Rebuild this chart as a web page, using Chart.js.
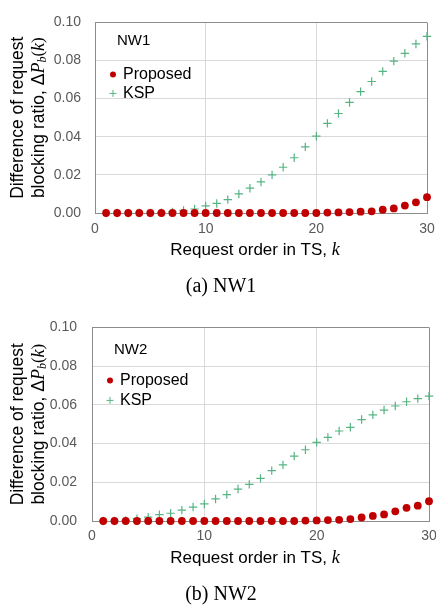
<!DOCTYPE html>
<html>
<head>
<meta charset="utf-8">
<script src="https://cdn.jsdelivr.net/npm/chart.js@4.4.1/dist/chart.umd.min.js"></script>
<style>
  html, body { margin:0; padding:0; background:#fff; width:436px; height:608px; overflow:hidden; position:relative; }
  .wrap { position:absolute; left:0; width:450px; height:304px; }
  .cap { position:absolute; left:0; width:442px; text-align:center; font-family:'Liberation Serif','Times New Roman',serif; font-size:20px; line-height:24px; color:#000; }
</style>
</head>
<body>
<div class="wrap" style="top:0"><canvas id="c1" width="450" height="304"></canvas></div>
<div class="wrap" style="top:304px"><canvas id="c2" width="450" height="304"></canvas></div>
<div class="cap" style="top:273px">(a) NW1</div>
<div class="cap" style="top:581px">(b) NW2</div>
<script>
// ---------- data ----------
const kValues = [1,2,3,4,5,6,7,8,9,10,11,12,13,14,15,16,17,18,19,20,21,22,23,24,25,26,27,28,29,30];
const xTicks = [0,10,20,30];
const yTicks = [0.00,0.02,0.04,0.06,0.08,0.10];

const nw1Proposed = [0,0,0,0,0,0,0,0,0,0,0,0,0,0,0,0,0,0,0,0,
  0.0002,0.0003,0.0005,0.0007,0.0009,0.0017,0.0024,0.0039,0.0056,0.0083];
const nw1KSP = [0,0,0,0,0,0.0002,0.0006,0.0014,0.0021,0.0037,0.0050,0.0070,0.0100,0.0130,0.0163,
  0.0200,0.0240,0.0290,0.0347,0.0403,0.0470,0.0522,0.0580,0.0637,0.0690,0.0743,0.0797,0.0838,0.0887,0.0927];

const nw2Proposed = [0,0,0,0,0,0,0,0,0,0,0,0,0,0,0,0,0,0,
  0.0002,0.0003,0.0005,0.0006,0.0010,0.0018,0.0026,0.0034,0.0050,0.0068,0.0079,0.0102];
const nw2KSP = [0,0,0.0003,0.0012,0.0020,0.0033,0.0040,0.0056,0.0072,0.0088,0.0114,0.0136,0.0165,0.0189,0.0220,
  0.0260,0.0290,0.0335,0.0368,0.0406,0.0432,0.0465,0.0484,0.0524,0.0548,0.0573,0.0594,0.0616,0.0632,0.0645];

const seriesNames = ['Proposed','KSP'];
const panelLabels = ['NW1','NW2'];

// ---------- styles ----------
const RED = '#c00000';
const GREEN = '#55b482';
const SANS = "'Liberation Sans', Arial, sans-serif";
const SERIF = "'Liberation Serif', 'Times New Roman', serif";

function pts(vals){ return kValues.map((k,i)=>({x:k, y:vals[i]})); }

function drawSegments(ctx, segs, x, y, align){
  let total = 0;
  segs.forEach(s=>{ ctx.font = s.font; s.w = ctx.measureText(s.t).width; total += s.w; });
  let cx = align==='center' ? x - total/2 : x;
  segs.forEach(s=>{ ctx.font = s.font; ctx.fillText(s.t, cx, y + (s.dy||0)); cx += s.w; });
}

function makeChart(id, prop, ksp, cfg){
  const overlay = {
    id:'overlay',
    afterDraw(chart){
      const ctx = chart.ctx, a = chart.chartArea;
      ctx.save();
      ctx.fillStyle = '#000';
      ctx.textBaseline = 'middle';
      ctx.textAlign = 'left';
      ctx.font = '15px ' + SANS;
      ctx.fillText(cfg.label, a.left + 22, a.top + cfg.labelDy);
      const lx = a.left + 18;
      ctx.fillStyle = RED;
      ctx.beginPath(); ctx.arc(lx, a.top + cfg.legDy1, 3, 0, Math.PI*2); ctx.fill();
      ctx.strokeStyle = GREEN; ctx.lineWidth = 1;
      ctx.beginPath();
      ctx.moveTo(lx-3.5, a.top + cfg.legDy2); ctx.lineTo(lx+3.5, a.top + cfg.legDy2);
      ctx.moveTo(lx, a.top + cfg.legDy2 - 3.5); ctx.lineTo(lx, a.top + cfg.legDy2 + 3.5);
      ctx.stroke();
      ctx.fillStyle = '#000';
      ctx.font = '16px ' + SANS;
      ctx.fillText(seriesNames[0], lx + 10, a.top + cfg.legDy1);
      ctx.fillText(seriesNames[1], lx + 10, a.top + cfg.legDy2);
      drawSegments(ctx, [
        {t:'Request order in TS, ', font:'17px ' + SANS},
        {t:'k', font:'italic 18px ' + SERIF}
      ], cfg.xTitleX, cfg.xTitleY, 'center');
      const cy = (a.top + a.bottom)/2;
      ctx.save();
      ctx.translate(18, cy);
      ctx.rotate(-Math.PI/2);
      drawSegments(ctx, [{t:'Difference of request', font:'17.5px ' + SANS}], 0, 0, 'center');
      ctx.restore();
      ctx.save();
      ctx.translate(39, cy);
      ctx.rotate(-Math.PI/2);
      drawSegments(ctx, [
        {t:'blocking ratio, Δ', font:'17.5px ' + SANS},
        {t:'P', font:'italic 18px ' + SERIF},
        {t:'b', font:'italic 12px ' + SERIF, dy:4},
        {t:'(', font:'17px ' + SERIF},
        {t:'k', font:'italic 18px ' + SERIF},
        {t:')', font:'17px ' + SERIF}
      ], 0, 0, 'center');
      ctx.restore();
      ctx.restore();
    }
  };

  const gridColor = (edgeVal) => (c) => (c.tick && Math.abs(c.tick.value - edgeVal) < 1e-9) ? '#8c8c8c' : '#d9d9d9';

  return new Chart(document.getElementById(id), {
    type:'scatter',
    data:{
      datasets:[
        { label:seriesNames[0], data:pts(prop), pointStyle:'circle', pointRadius:3.9, pointHoverRadius:3.9,
          backgroundColor:RED, borderColor:RED, borderWidth:0, order:1 },
        { label:seriesNames[1], data:pts(ksp), pointStyle:'cross', pointRadius:4.2, pointHoverRadius:4.2,
          backgroundColor:GREEN, borderColor:GREEN, borderWidth:1.2, order:2 }
      ]
    },
    options:{
      responsive:false, animation:false, devicePixelRatio:1,
      clip:false,
      layout:{ padding:{ top:cfg.top, right:cfg.right, left:0, bottom:0 } },
      plugins:{ legend:{display:false}, tooltip:{enabled:false}, title:{display:false} },
      scales:{
        x:{
          type:'linear', min:0, max:30,
          afterBuildTicks(s){ s.ticks = xTicks.map(v=>({value:v})); },
          afterFit(s){ s.height = cfg.xh; },
          ticks:{ color:'#595959', font:{family:SANS, size:14}, padding:cfg.xpad, maxRotation:0 },
          grid:{ color:gridColor(30), drawTicks:false, tickLength:0 },
          border:{ display:true, color:'#8c8c8c', width:1 }
        },
        y:{
          type:'linear', min:0, max:0.1,
          afterBuildTicks(s){ s.ticks = yTicks.map(v=>({value:v})); },
          afterFit(s){ s.width = cfg.yw; },
          ticks:{ color:'#595959', font:{family:SANS, size:14}, padding:cfg.ypad,
                  callback:(v)=>Number(v).toFixed(2) },
          grid:{ color:gridColor(0.1), drawTicks:false, tickLength:0 },
          border:{ display:true, color:'#8c8c8c', width:1 }
        }
      }
    },
    plugins:[overlay]
  });
}

makeChart('c1', nw1Proposed, nw1KSP, {
  label:panelLabels[0], top:13, right:23, yw:95, xh:91, xpad:8, ypad:14,
  labelDy:18, legDy1:52, legDy2:71, xTitleX:255, xTitleY:250
});
makeChart('c2', nw2Proposed, nw2KSP, {
  label:panelLabels[1], top:11, right:21, yw:92, xh:87, xpad:7, ypad:15,
  labelDy:22, legDy1:53, legDy2:73, xTitleX:255, xTitleY:254
});
</script>
</body>
</html>
